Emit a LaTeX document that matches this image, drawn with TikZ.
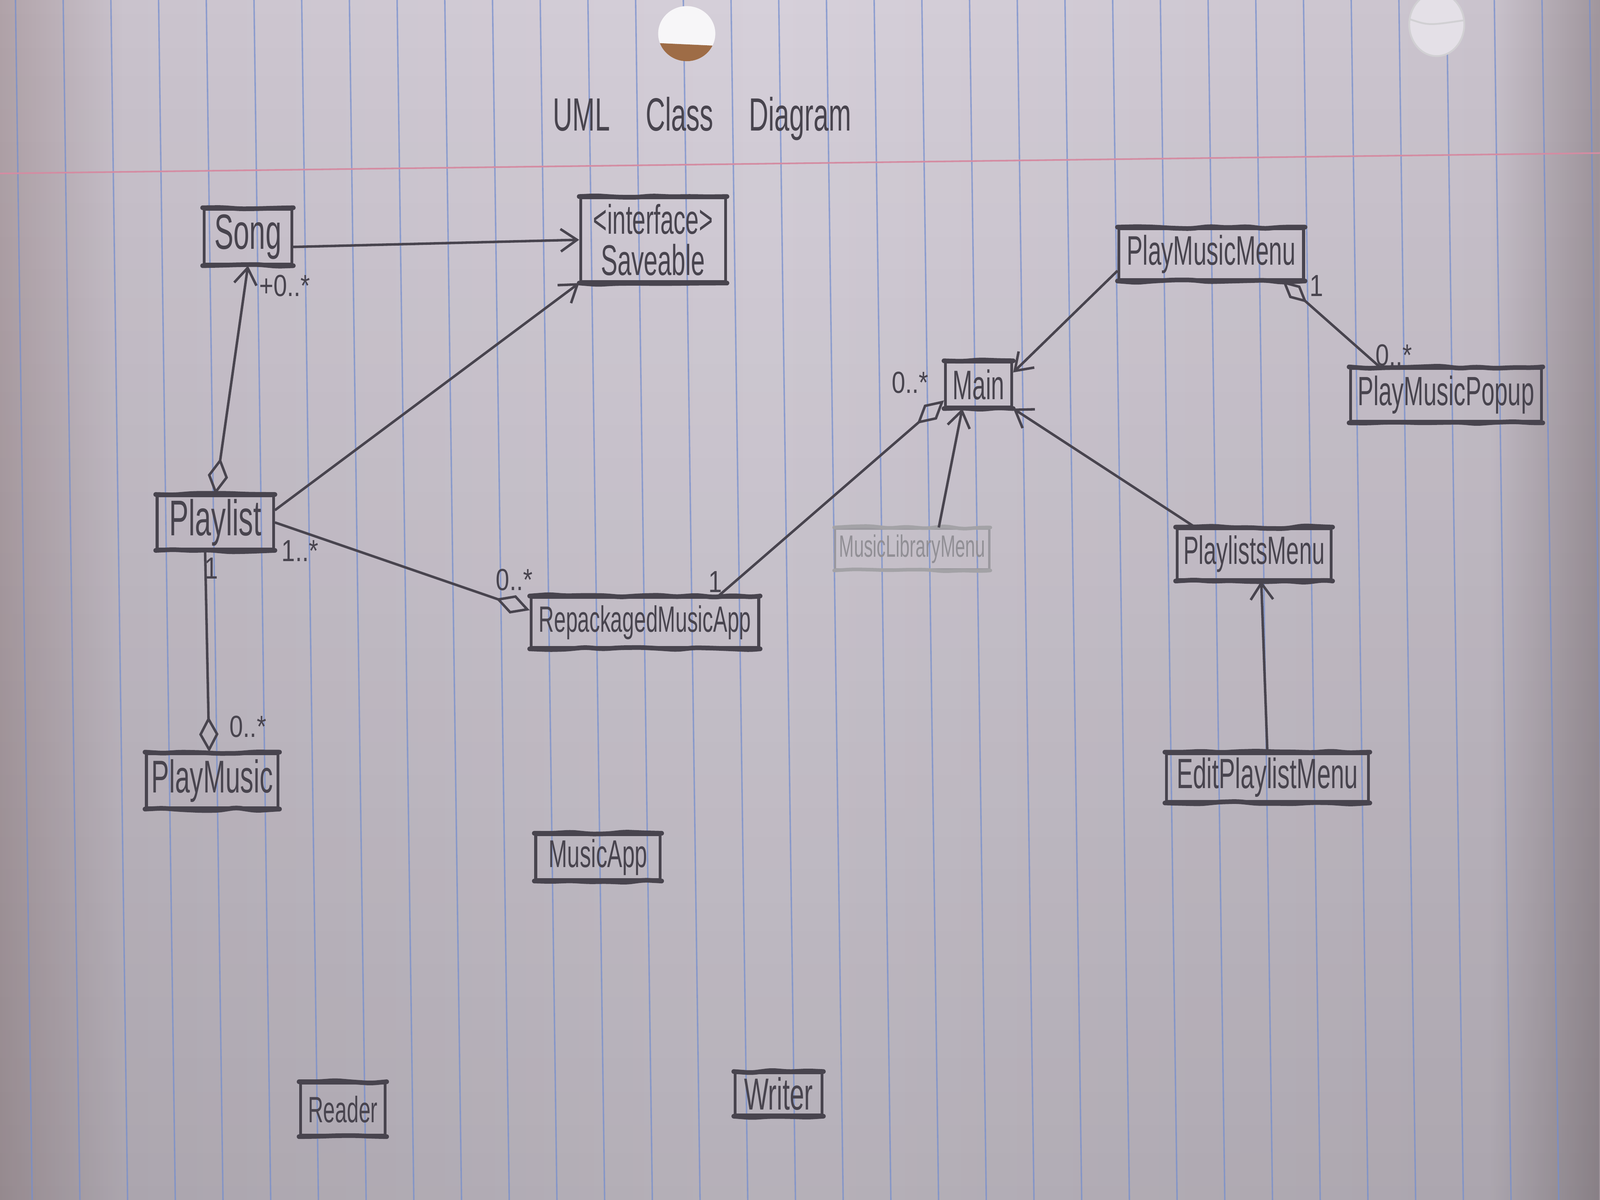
\documentclass[tikz,border=0pt]{standalone}
\usepackage{fontspec}
\newfontfamily\handfont[FakeStretch=0.58]{Liberation Sans}
\newfontfamily\markfont[FakeStretch=0.8]{Liberation Sans}
\usetikzlibrary{arrows.meta,decorations.pathmorphing,fadings}

\definecolor{pencil}{RGB}{72,68,78}
\definecolor{rulecol}{RGB}{118,142,205}
\definecolor{margincol}{RGB}{212,140,162}
\definecolor{paperc}{RGB}{214,208,218}
\definecolor{paperm}{RGB}{202,195,205}
\definecolor{paperl}{RGB}{176,162,168}
\definecolor{paperr}{RGB}{160,150,157}
\definecolor{holebrown}{RGB}{158,108,70}
\newcommand{\handsz}[1]{\fontsize{#1}{#1}\selectfont}

\begin{document}
\begin{tikzpicture}[
  cls/.style={draw=pencil, line width=0.8pt, inner sep=0pt, text=pencil},
  faintcls/.style={draw=pencil!55, line width=0.6pt, inner sep=0pt, text=pencil!60},
  boxrim/.style={draw=pencil, line width=1.3pt, line cap=round, rounded corners=0.5mm,
    decorate, decoration={random steps, segment length=1.8mm, amplitude=0.15mm}},
  link/.style={draw=pencil, line width=0.7pt},
  arrowto/.style={link, -{Straight Barb[length=1.6mm,width=2.2mm]}},
  aggstart/.style={link, {Diamond[open,length=3.2mm,width=1.6mm]}-},
  aggend/.style={link, -{Diamond[open,length=3.5mm,width=1.9mm]}},
  aggarrow/.style={link, {Diamond[open,length=3.6mm,width=2mm]}-{Straight Barb[length=1.6mm,width=2.2mm]}},
  mult/.style={text=pencil, font=\markfont\handsz{8.5}, inner sep=0pt},
]
\useasboundingbox (0,0) rectangle (15.68,-11.76);

% the sheet of paper
\shade[left color=paperl, right color=paperm] (0,0) rectangle (1.22,-11.76);
\shade[left color=paperm, right color=paperc] (1.2,0) rectangle (7.52,-11.76);
\shade[left color=paperc, right color=paperm] (7.5,0) rectangle (14.62,-11.76);
\shade[left color=paperm, right color=paperr] (14.6,0) rectangle (15.68,-11.76);
\fill[black, opacity=0.15, path fading=north] (0,0) rectangle (15.68,-11.76);
\foreach \k in {-3,...,30}
  \draw[rulecol, line width=0.4pt, opacity=0.75] ({1.554+0.4675*\k},0) -- ({1.718+0.4675*\k},-11.76);
\draw[margincol, line width=0.45pt] (0,-1.70) -- (15.68,-1.50);
% punched holes
\fill[white!80!paperc] (6.73,-0.33) ellipse (0.28 and 0.27);
\begin{scope}
\clip (6.73,-0.33) ellipse (0.28 and 0.27);
\fill[holebrown] (6.40,-0.42) -- (7.05,-0.45) -- (7.05,-0.70) -- (6.40,-0.70) -- cycle;
\end{scope}
\fill[white!35!paperc] (14.08,-0.24) ellipse (0.27 and 0.31);
\draw[pencil!25, line width=0.5pt] (14.08,-0.24) ellipse (0.27 and 0.31);
\draw[pencil!25, line width=0.5pt] (13.82,-0.19) .. controls (14.0,-0.25) .. (14.34,-0.20);

% title
\node[text=pencil, font=\handfont\handsz{13}, anchor=base] (title) at (6.88,-1.28)
  {UML\hspace{3.5mm}Class\hspace{3.5mm}Diagram};

% classes
\node[cls, minimum width=0.86cm, minimum height=0.54cm, font=\handfont\handsz{13.8}] (song) at (2.43,-2.32) {Song};
\node[cls, minimum width=1.42cm, minimum height=0.82cm, align=center, font=\handfont\handsz{11.5}] (saveable) at (6.40,-2.35)
  {<interface>\\{\handsz{12}Saveable}};
\node[cls, minimum width=1.81cm, minimum height=0.50cm, font=\handfont\handsz{11.5}] (pmmenu) at (11.87,-2.49) {PlayMusicMenu};
\node[cls, minimum width=0.65cm, minimum height=0.44cm, font=\handfont\handsz{11.5}] (main) at (9.59,-3.77) {Main};
\node[cls, minimum width=1.87cm, minimum height=0.52cm, font=\handfont\handsz{11.4}] (popup) at (14.17,-3.87) {PlayMusicPopup};
\node[cls, minimum width=1.14cm, minimum height=0.52cm, font=\handfont\handsz{14}] (playlist) at (2.11,-5.12) {Playlist};
\node[faintcls, minimum width=1.51cm, minimum height=0.40cm, font=\handfont\handsz{8.6}] (mlmenu) at (8.94,-5.38) {MusicLibraryMenu};
\node[cls, minimum width=1.51cm, minimum height=0.50cm, font=\handfont\handsz{11}] (plmenu) at (12.29,-5.43) {PlaylistsMenu};
\node[cls, minimum width=2.23cm, minimum height=0.49cm, font=\handfont\handsz{10.2}] (repack) at (6.32,-6.10) {RepackagedMusicApp};
\node[cls, minimum width=1.29cm, minimum height=0.53cm, font=\handfont\handsz{12.8}] (playmusic) at (2.08,-7.65) {PlayMusic};
\node[cls, minimum width=1.98cm, minimum height=0.47cm, font=\handfont\handsz{11.8}] (editpl) at (12.42,-7.62) {EditPlaylistMenu};
\node[cls, minimum width=1.22cm, minimum height=0.44cm, font=\handfont\handsz{10.8}] (musicapp) at (5.86,-8.40) {MusicApp};
\node[cls, minimum width=0.83cm, minimum height=0.51cm, font=\handfont\handsz{10.2}] (reader) at (3.36,-10.87) {Reader};
\node[cls, minimum width=0.85cm, minimum height=0.41cm, font=\handfont\handsz{12.5}] (writer) at (7.63,-10.72) {Writer};

% heavy pencil strokes along the tops and bottoms
\foreach \b in {song,saveable,pmmenu,main,popup,playlist,plmenu,repack,playmusic,editpl,musicapp,reader,writer}
  \draw[boxrim] (\b.north west) -- (\b.north east) (\b.south west) -- (\b.south east);
\draw[boxrim, draw=pencil!50, line width=1pt] (mlmenu.north west) -- (mlmenu.north east) (mlmenu.south west) -- (mlmenu.south east);

% relations
\draw[arrowto] ([yshift=-1mm]song.east) -- (saveable.west);
\draw[arrowto] ([yshift=1.2mm]playlist.east) -- (saveable.south west);
\draw[aggarrow] (playlist.north) -- (song.south);
\draw[aggend] ([xshift=-1mm]playlist.south) -- ([xshift=-0.3mm]playmusic.north);
\draw[aggend] (playlist.east) -- ([yshift=1.2mm]repack.west);
\draw[aggend] ([xshift=7.2mm]repack.north) -- ([yshift=0.8mm]main.south west);
\draw[arrowto] ([yshift=1mm]pmmenu.south west) -- ([yshift=1.2mm]main.east);
\draw[arrowto] ([xshift=2.6mm]mlmenu.north) -- ([xshift=-1.6mm]main.south);
\draw[arrowto] ([xshift=1.9mm]plmenu.north west) -- (main.south east);
\draw[arrowto] (editpl.north) -- ([xshift=0.7mm]plmenu.south);
\draw[aggstart] ([xshift=-2.2mm]pmmenu.south east) -- ([xshift=3mm]popup.north west);

% multiplicities
\node[mult] (mSong) at (2.79,-2.80) {+0..*};
\node[mult] (mPlaylistOne) at (2.07,-5.57) {1};
\node[mult] (mPlayMusic) at (2.43,-7.12) {0..*};
\node[mult] (mPlaylistMany) at (2.94,-5.40) {1..*};
\node[mult] (mRepackMany) at (5.04,-5.68) {0..*};
\node[mult] (mRepackOne) at (7.01,-5.70) {1};
\node[mult] (mMainMany) at (8.92,-3.75) {0..*};
\node[mult] (mMenuOne) at (12.90,-2.80) {1};
\node[mult] (mPopupMany) at (13.66,-3.48) {0..*};
\end{tikzpicture}
\end{document}
